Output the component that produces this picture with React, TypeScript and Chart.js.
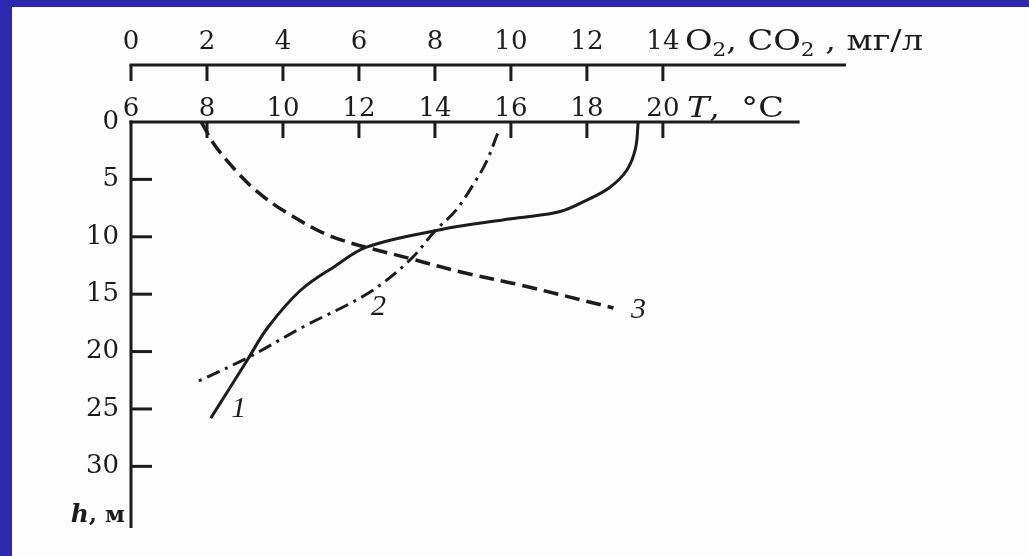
import { useEffect, useRef } from "react";
import { Chart, registerables } from "chart.js";

Chart.register(...registerables);

// Axis ticks
const DEPTH_TICKS = [0, 5, 10, 15, 20, 25, 30];
const GAS_TICKS = [0, 2, 4, 6, 8, 10, 12, 14];
const TEMP_TICKS = [6, 8, 10, 12, 14, 16, 18, 20];

// Axis ranges (the two top scales share one pixel grid: T = gas + 6)
const DEPTH_MAX = 35.37;
const GAS_MIN = 0;
const GAS_MAX = 18.82;
const TEMP_MIN = 6;
const TEMP_MAX = 24.82;
const GAS_AXIS_END = 18.82;
const TEMP_AXIS_END = 23.6;

// Curve 1 — water temperature, °C, against depth, m
const TEMP_VALUES = [19.35, 19.28, 19.05, 18.6, 18.0, 17.3, 16.2, 15.2, 14.2, 12.2, 11.35, 10.45, 9.6, 9.05, 8.1];
const TEMP_DEPTHS = [0, 2.3, 4.2, 5.7, 6.8, 7.8, 8.35, 8.8, 9.35, 10.9, 12.6, 14.7, 17.9, 20.8, 25.8];

// Curve 2 — dissolved O2, mg/l
const O2_VALUES = [9.65, 9.35, 9.0, 8.55, 8.0, 7.35, 6.25, 4.5, 3.15, 1.7];
const O2_DEPTHS = [1.0, 3.5, 5.5, 7.7, 9.5, 12.0, 14.9, 17.9, 20.4, 22.7];

// Curve 3 — dissolved CO2, mg/l
const CO2_VALUES = [1.85, 2.2, 2.75, 3.3, 4.05, 5.3, 7.35, 8.85, 10.25, 12.7];
const CO2_DEPTHS = [0, 2.0, 4.2, 6.0, 7.8, 10.0, 11.9, 13.2, 14.2, 16.2];

const CURVE_NAMES = ["1", "2", "3"];

const INK = "#1c1c1c";
const FRAME = "#2c29b0";
const SERIF = '"DejaVu Serif", serif';
const TIMES = '"Liberation Serif", serif';

const toPoints = (xs: number[], ys: number[]) => xs.map((x, i) => ({ x, y: ys[i] }));

// draws a run of text pieces (subscripts lowered) stretched horizontally
function drawRun(
  ctx: CanvasRenderingContext2D,
  parts: { s: string; font: string; dy: number }[],
  x: number,
  y: number,
  stretch: number
) {
  ctx.save();
  ctx.translate(x, y);
  ctx.scale(stretch, 1);
  let cx = 0;
  parts.forEach((p) => {
    ctx.font = p.font;
    ctx.fillText(p.s, cx, p.dy);
    cx += ctx.measureText(p.s).width;
  });
  ctx.restore();
  return cx * stretch;
}

const axisDecor = {
  id: "axisDecor",
  afterDraw(chart: any) {
    const ctx: CanvasRenderingContext2D = chart.ctx;
    const { left, top, bottom } = chart.chartArea;
    const xT = chart.scales.xT;
    const xG = chart.scales.xO2;
    const y = chart.scales.y;
    const line = (x1: number, y1: number, x2: number, y2: number) => {
      ctx.beginPath();
      ctx.moveTo(x1, y1);
      ctx.lineTo(x2, y2);
      ctx.stroke();
    };
    ctx.save();
    ctx.strokeStyle = INK;
    ctx.lineWidth = 3;
    ctx.lineCap = "butt";

    // gas concentration axis with inward ticks
    const gy = xG.bottom;
    line(xG.getPixelForValue(GAS_TICKS[0]) - 1.5, gy, xG.getPixelForValue(GAS_AXIS_END), gy);
    GAS_TICKS.forEach((v) => {
      const px = xG.getPixelForValue(v);
      line(px, gy, px, gy + 16);
    });

    // temperature axis
    line(left - 1.5, top, xT.getPixelForValue(TEMP_AXIS_END), top);
    TEMP_TICKS.slice(1).forEach((v) => {
      const px = xT.getPixelForValue(v);
      line(px, top, px, top + 16);
    });

    // depth axis
    line(left, top - 1.5, left, bottom);
    DEPTH_TICKS.slice(1).forEach((v) => {
      const py = y.getPixelForValue(v);
      line(left, py, left + 21, py);
    });

    ctx.fillStyle = INK;
    ctx.textBaseline = "alphabetic";
    ctx.textAlign = "left";

    // "O2, CO2, мг/л"
    const big = `28px ${SERIF}`;
    const small = `18px ${SERIF}`;
    drawRun(
      ctx,
      [
        { s: "O", font: big, dy: 0 },
        { s: "2", font: small, dy: 6 },
        { s: ", CO", font: big, dy: 0 },
        { s: "2", font: small, dy: 6 },
        { s: " , мг/л", font: big, dy: 0 },
      ],
      xG.getPixelForValue(GAS_TICKS[GAS_TICKS.length - 1]) + 22,
      gy - 15,
      1.2
    );

    // "T, °C"
    drawRun(
      ctx,
      [
        { s: "T", font: `italic 28px ${SERIF}`, dy: 0 },
        { s: ",  °C", font: big, dy: 0 },
      ],
      xT.getPixelForValue(TEMP_TICKS[TEMP_TICKS.length - 1]) + 24,
      top - 5,
      1.2
    );

    // "h, м"
    ctx.font = `bold 23px ${SERIF}`;
    const tail = ", м";
    const tailW = ctx.measureText(tail).width;
    ctx.font = `bold italic 25px ${SERIF}`;
    const hW = ctx.measureText("h").width;
    const hx = left - 6 - tailW - hW;
    ctx.fillText("h", hx, bottom - 6);
    ctx.font = `bold 23px ${SERIF}`;
    ctx.fillText(tail, hx + hW, bottom - 6);

    // curve numbers beside the lines
    const anchors = [
      { ds: 0, idx: TEMP_VALUES.length - 1, dx: 28, dy: -9 },
      { ds: 1, idx: 6, dx: 10, dy: 14 },
      { ds: 2, idx: CO2_VALUES.length - 1, dx: 25, dy: 2 },
    ];
    ctx.font = `italic 30px ${TIMES}`;
    ctx.textAlign = "center";
    ctx.textBaseline = "middle";
    anchors.forEach((a, i) => {
      const el = chart.getDatasetMeta(a.ds).data[a.idx];
      ctx.fillText(CURVE_NAMES[i], el.x + a.dx, el.y + a.dy);
    });
    ctx.restore();
  },
};

export default function App() {
  const ref = useRef<HTMLCanvasElement | null>(null);

  useEffect(() => {
    if (!ref.current) return;
    const tickFont = { family: SERIF, size: 26, lineHeight: 1 };
    const chart = new Chart(ref.current, {
      type: "scatter",
      data: {
        datasets: [
          {
            label: CURVE_NAMES[0],
            data: toPoints(TEMP_VALUES, TEMP_DEPTHS),
            xAxisID: "xT",
            yAxisID: "y",
            showLine: true,
            borderColor: INK,
            borderWidth: 3,
            tension: 0.35,
            pointRadius: 0,
            clip: false,
          },
          {
            label: CURVE_NAMES[1],
            data: toPoints(O2_VALUES, O2_DEPTHS),
            xAxisID: "xO2",
            yAxisID: "y",
            showLine: true,
            borderColor: INK,
            borderWidth: 3,
            borderDash: [14, 6, 3, 6],
            tension: 0.35,
            pointRadius: 0,
            clip: false,
          },
          {
            label: CURVE_NAMES[2],
            data: toPoints(CO2_VALUES, CO2_DEPTHS),
            xAxisID: "xO2",
            yAxisID: "y",
            showLine: true,
            borderColor: INK,
            borderWidth: 3.5,
            borderDash: [15, 7],
            tension: 0.35,
            pointRadius: 0,
            clip: false,
          },
        ],
      },
      options: {
        responsive: false,
        animation: false,
        events: [],
        layout: { padding: { left: 10, top: 20, right: 183, bottom: 28 } },
        plugins: { legend: { display: false }, tooltip: { enabled: false } },
        scales: {
          xT: {
            type: "linear",
            position: "top",
            axis: "x",
            weight: 0,
            min: TEMP_MIN,
            max: TEMP_MAX,
            grid: { display: false, drawTicks: false },
            border: { display: false },
            ticks: { font: tickFont, color: INK, padding: 0, maxRotation: 0, autoSkip: false },
            afterBuildTicks: (s: any) => {
              s.ticks = TEMP_TICKS.map((value) => ({ value }));
            },
            afterFit: (s: any) => {
              s.height = 57;
            },
          },
          xO2: {
            type: "linear",
            position: "top",
            axis: "x",
            weight: 1,
            min: GAS_MIN,
            max: GAS_MAX,
            grid: { display: false, drawTicks: false },
            border: { display: false },
            ticks: { font: tickFont, color: INK, padding: 10, maxRotation: 0, autoSkip: false },
            afterBuildTicks: (s: any) => {
              s.ticks = GAS_TICKS.map((value) => ({ value }));
            },
            afterFit: (s: any) => {
              s.height = 45;
            },
          },
          y: {
            type: "linear",
            position: "left",
            reverse: true,
            min: 0,
            max: DEPTH_MAX,
            grid: { display: false, drawTicks: false },
            border: { display: false },
            ticks: { font: tickFont, color: INK, padding: 12, autoSkip: false },
            afterBuildTicks: (s: any) => {
              s.ticks = DEPTH_TICKS.map((value) => ({ value }));
            },
            afterFit: (s: any) => {
              s.width = 121;
            },
          },
        },
      },
      plugins: [axisDecor],
    });
    return () => chart.destroy();
  }, []);

  return (
    <div
      style={{
        position: "fixed",
        left: 0,
        top: 0,
        width: 1029,
        height: 556,
        background: "#fdfdfd",
        overflow: "hidden",
      }}
    >
      <canvas ref={ref} width={1029} height={556} style={{ position: "absolute", left: 0, top: 0 }} />
      <div style={{ position: "absolute", left: 0, top: 0, width: 1029, height: 7, background: FRAME }} />
      <div style={{ position: "absolute", left: 0, top: 0, width: 12, height: 556, background: FRAME }} />
    </div>
  );
}
